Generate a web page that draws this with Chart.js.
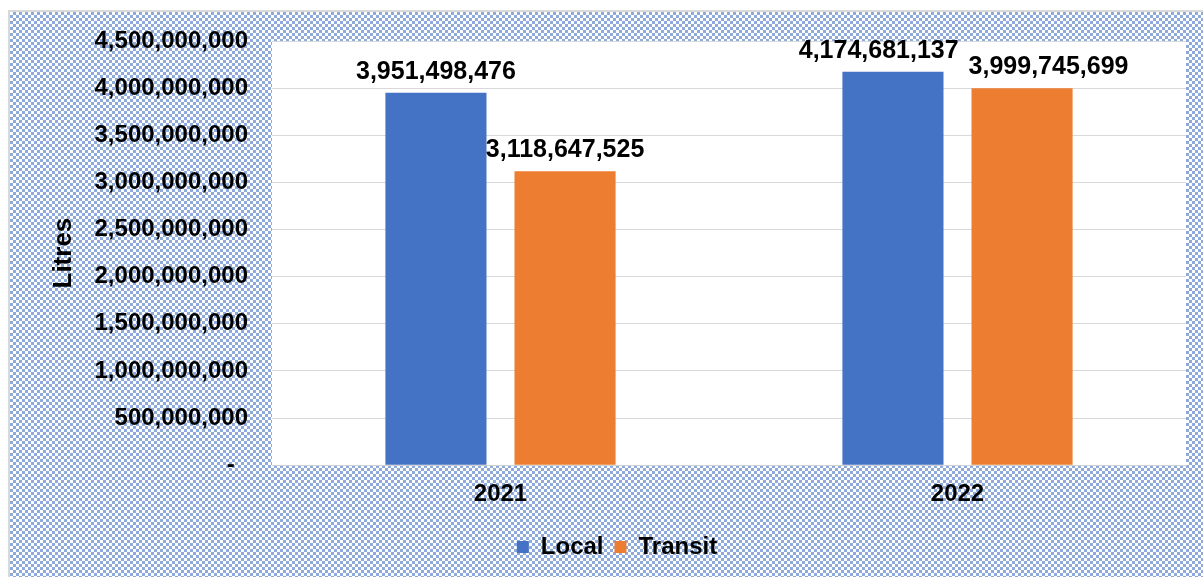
<!DOCTYPE html>
<html>
<head>
<meta charset="utf-8">
<script src="https://cdn.jsdelivr.net/npm/chart.js@4.4.1/dist/chart.umd.min.js"></script>
<style>
  html, body { margin:0; padding:0; background:#fff; }
  #box {
    position:absolute; left:8px; top:10px; width:1195px; height:567px;
    box-sizing:border-box; border-top:2px solid #d9d9d9; border-left:2px solid #d9d9d9;
    background: repeating-conic-gradient(#8eaadb 0 25%, #fff 0 50%) 0 0/6px 6px;
  }
  #chart { position:absolute; left:-2px; top:-2px; }
</style>
</head>
<body>
<div id="box"><canvas id="chart" width="1195" height="567"></canvas></div>
<script>
const years = ['2021', '2022'];
const localLitres = [3951498476, 4174681137];
const transitLitres = [3118647525, 3999745699];
const yMax = 4500000000;
const yStep = 500000000;

const FONT = "'Liberation Sans', Arial, sans-serif";

// white plot area
const plotBg = {
  id: 'plotBg',
  beforeDraw(chart) {
    const a = chart.chartArea, c = chart.ctx;
    c.save();
    c.fillStyle = '#fff';
    c.fillRect(a.left, a.top, a.right - a.left, a.bottom - a.top);
    c.restore();
  }
};

// value labels above bars, pushed apart when they overlap
const barLabels = {
  id: 'barLabels',
  afterDatasetsDraw(chart) {
    const c = chart.ctx;
    c.save();
    c.font = 'bold 25px ' + FONT;
    c.fillStyle = '#000';
    c.textAlign = 'center';
    c.textBaseline = 'alphabetic';
    years.forEach((y, i) => {
      const items = chart.data.datasets.map((ds, d) => {
        const bar = chart.getDatasetMeta(d).data[i];
        const txt = ds.data[i].toLocaleString('en-US');
        return { txt, x: bar.x, y: bar.y - 14, w: c.measureText(txt).width };
      });
      const a = items[0], b = items[1];
      const overlapX = (a.x + a.w / 2) - (b.x - b.w / 2) + 10;
      if (overlapX > 0 && Math.abs(a.y - b.y) < 24) {
        a.x -= overlapX * 0.35;
        b.x += overlapX * 0.65;
      }
      items.forEach(it => c.fillText(it.txt, it.x, it.y));
    });
    c.restore();
  }
};

new Chart(document.getElementById('chart'), {
  type: 'bar',
  data: {
    labels: years,
    datasets: [
      { label: 'Local', data: localLitres, backgroundColor: '#4472c4' },
      { label: 'Transit', data: transitLitres, backgroundColor: '#ed7d31' }
    ]
  },
  options: {
    responsive: false,
    animation: false,
    categoryPercentage: 0.565,
    barPercentage: 0.783,
    layout: { padding: { left: 40, right: 17, top: 31, bottom: 8 } },
    scales: {
      x: {
        grid: { display: false, drawTicks: false },
        border: { display: true, color: '#d0d0d0' },
        ticks: { color: '#000', font: { family: FONT, size: 24, weight: 'bold' }, padding: 15 }
      },
      y: {
        min: 0, max: yMax,
        afterFit(s) { s.width = 224; s.paddingTop = 0; },
        grid: { color: '#d9d9d9', drawTicks: false },
        border: { display: false },
        ticks: {
          stepSize: yStep,
          padding: 24,
          color: '#000',
          font: { family: FONT, size: 24, weight: 'bold' },
          callback: v => v === 0 ? '-  ' : v.toLocaleString('en-US')
        },
        title: {
          display: true, text: 'Litres', color: '#000', padding: 0,
          font: { family: FONT, size: 26, weight: 'bold' }
        }
      }
    },
    plugins: {
      legend: {
        position: 'bottom',
        labels: {
          boxWidth: 12, boxHeight: 12, color: '#000', padding: 11,
          font: { family: FONT, size: 24, weight: 'bold' }
        }
      },
      tooltip: { enabled: false }
    }
  },
  plugins: [plotBg, barLabels]
});
</script>
</body>
</html>
